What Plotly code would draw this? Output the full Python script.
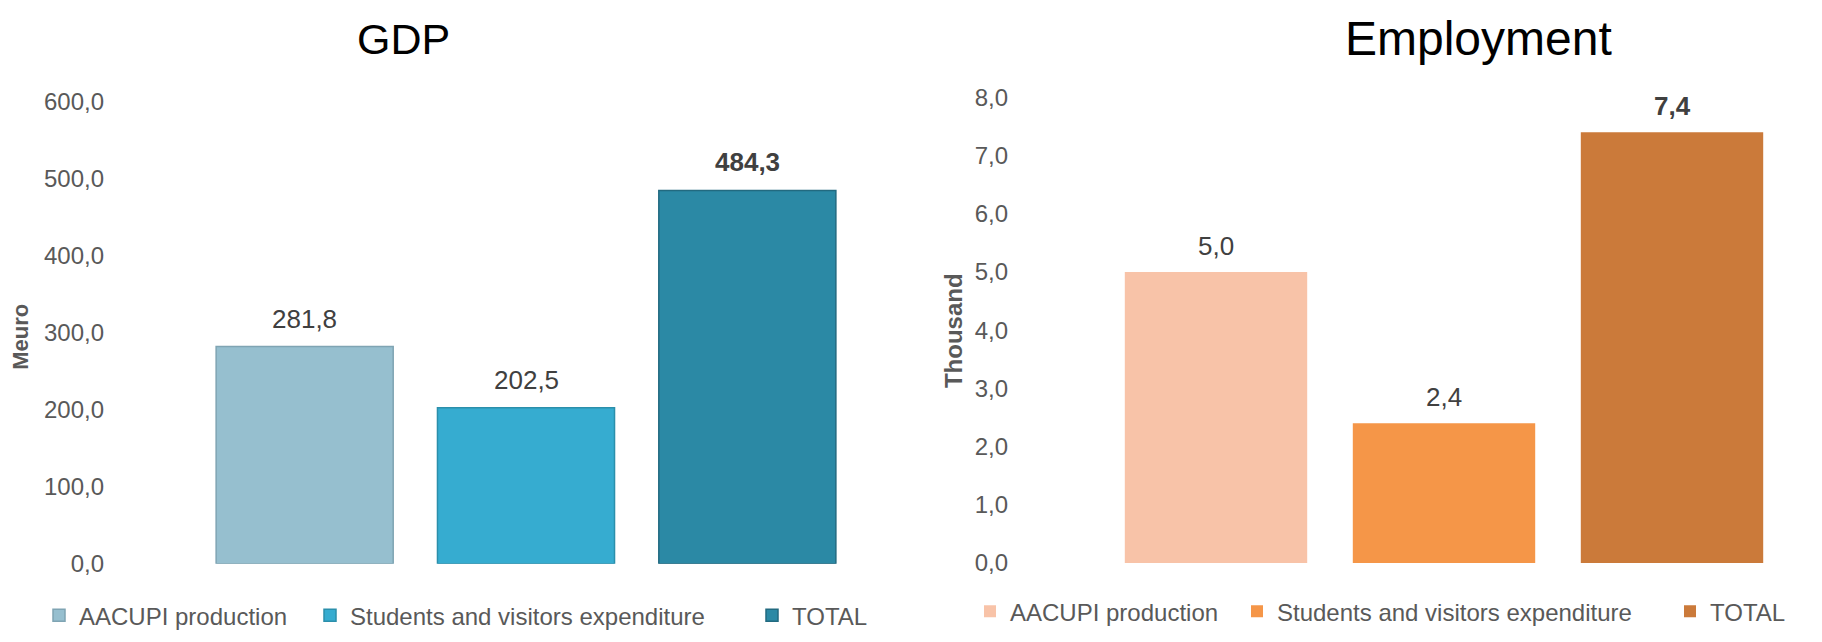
import plotly.graph_objects as go

series = ["AACUPI production", "Students and visitors expenditure", "TOTAL"]
gdp_values = [281.8, 202.5, 484.3]
emp_values = [5.0, 2.4, 7.4]
gdp_ticks = [0, 100, 200, 300, 400, 500, 600]
emp_ticks = [0, 1, 2, 3, 4, 5, 6, 7, 8]

gdp_colors = ["#96bfcf", "#36acd0", "#2b89a5"]
gdp_lines = ["#7fa4b3", "#2b8fab", "#226a80"]
emp_colors = ["#f8c3a8", "#f59648", "#cb7a3a"]

FONT = "Liberation Sans, Arial, sans-serif"
W, H = 1822, 642

fig = go.Figure()

legend_names = ["legend", "legend2", "legend3", "legend4", "legend5", "legend6"]

for i, (name, v) in enumerate(zip(series, gdp_values)):
    fig.add_trace(go.Bar(
        x=[name], y=[v], name=name, xaxis="x", yaxis="y",
        marker=dict(color=gdp_colors[i], line=dict(color=gdp_lines[i], width=1.5)),
        legend=legend_names[i], showlegend=True,
    ))
for i, (name, v) in enumerate(zip(series, emp_values)):
    fig.add_trace(go.Bar(
        x=[name], y=[v], name=name, xaxis="x2", yaxis="y2",
        marker=dict(color=emp_colors[i], line=dict(width=0)),
        legend=legend_names[3 + i], showlegend=True,
    ))

def fmt(v):
    return f"{v:.1f}".replace(".", ",")

annotations = []
for i, (name, v) in enumerate(zip(series, gdp_values)):
    t = fmt(v)
    if name == "TOTAL":
        t = f"<b>{t}</b>"
    annotations.append(dict(x=name, y=v, xref="x", yref="y", text=t, showarrow=False,
                            yanchor="bottom", yshift=11,
                            font=dict(family=FONT, size=26, color="#404040")))
for i, (name, v) in enumerate(zip(series, emp_values)):
    t = fmt(v)
    if name == "TOTAL":
        t = f"<b>{t}</b>"
    annotations.append(dict(x=name, y=v, xref="x2", yref="y2", text=t, showarrow=False,
                            yanchor="bottom", yshift=9,
                            font=dict(family=FONT, size=26, color="#404040")))

# chart titles
annotations.append(dict(x=403 / W, y=1 - 26 / H, xref="paper", yref="paper", text="GDP",
                        showarrow=False, xanchor="center", yanchor="middle",
                        font=dict(family=FONT, size=43, color="#000000")))
annotations.append(dict(x=1478 / W, y=1 - 26 / H, xref="paper", yref="paper", text="Employment",
                        showarrow=False, xanchor="center", yanchor="middle",
                        font=dict(family=FONT, size=48, color="#000000")))
# axis titles
annotations.append(dict(x=21 / W, y=1 - 337 / H, xref="paper", yref="paper", text="<b>Meuro</b>",
                        showarrow=False, textangle=-90, xanchor="center", yanchor="middle",
                        font=dict(family=FONT, size=22, color="#595959")))
annotations.append(dict(x=953 / W, y=1 - 331 / H, xref="paper", yref="paper", text="<b>Thousand</b>",
                        showarrow=False, textangle=-90, xanchor="center", yanchor="middle",
                        font=dict(family=FONT, size=24, color="#595959")))

tickfont = dict(family=FONT, size=24, color="#595959")

layout = dict(
    width=W, height=H,
    margin=dict(l=0, r=0, t=0, b=0),
    paper_bgcolor="white", plot_bgcolor="white",
    separators=",.",
    barmode="overlay",
    bargap=0.2,
    showlegend=True,
    annotations=annotations,
    xaxis=dict(domain=[194 / W, 858 / W], anchor="y", showticklabels=False, showgrid=False,
               zeroline=False, showline=False, ticks="", categoryorder="array", categoryarray=series),
    yaxis=dict(domain=[1 - 574 / H, 1 - 91 / H], anchor="x", range=[0, 600], tickvals=gdp_ticks,
               tickformat=".1f", showgrid=False, zeroline=False, showline=False, ticks="",
               tickfont=tickfont, ticklabelstandoff=89),
    xaxis2=dict(domain=[1102 / W, 1786 / W], anchor="y2", showticklabels=False, showgrid=False,
                zeroline=False, showline=False, ticks="", categoryorder="array", categoryarray=series),
    yaxis2=dict(domain=[1 - 573 / H, 1 - 87 / H], anchor="x2", range=[0, 8], tickvals=emp_ticks,
                tickformat=".1f", showgrid=False, zeroline=False, showline=False, ticks="",
                tickfont=tickfont, ticklabelstandoff=93),
)

legend_text_x = [88, 359, 801, 1019, 1286, 1719]
legend_y = [628, 628, 628, 624, 624, 624]
for i, ln in enumerate(legend_names):
    layout[ln] = dict(
        x=(legend_text_x[i] - 49) / W, y=1 - legend_y[i] / H,
        xanchor="left", yanchor="middle", orientation="h",
        bgcolor="rgba(0,0,0,0)", borderwidth=0,
        font=dict(family=FONT, size=24, color="#595959"),
    )

fig.update_layout(**layout)
fig.write_html(
    "out.html",
    config={"displayModeBar": False},
    post_script=(
        "document.body.style.margin='0';document.body.style.padding='0';"
        "document.body.style.overflow='hidden';"
    ),
)
